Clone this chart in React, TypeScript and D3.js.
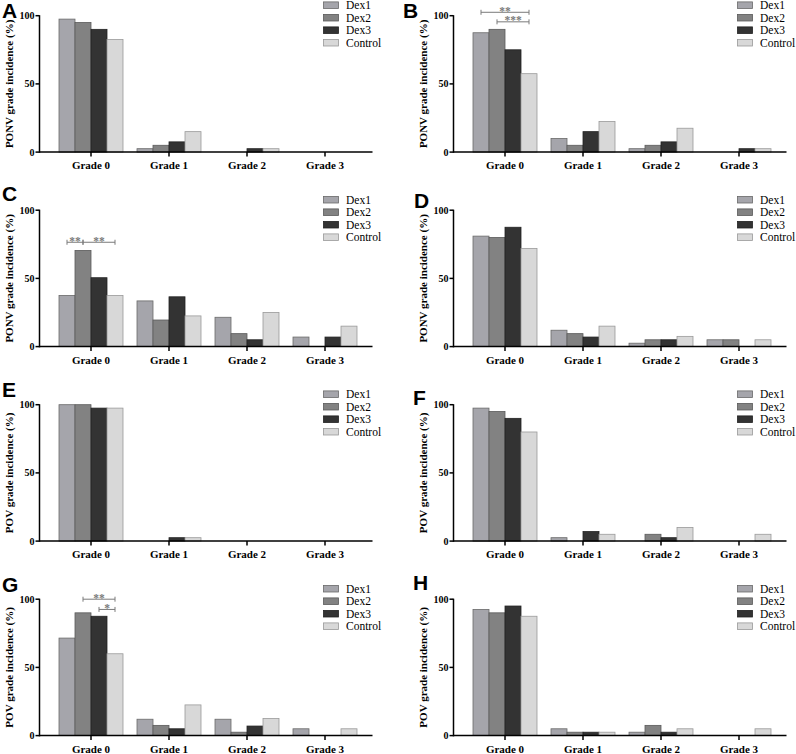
import React, { useEffect } from 'react';
import * as d3 from 'd3';

const categories = ['Grade 0', 'Grade 1', 'Grade 2', 'Grade 3'];
const series = ['Dex1', 'Dex2', 'Dex3', 'Control'];
const yTicks = [0, 50, 100];

// values per grade: [Dex1, Dex2, Dex3, Control]
const ponvA = [[97.5, 95, 90, 82.5], [2.5, 5, 7.5, 15], [0, 0, 2.5, 2.5], [0, 0, 0, 0]];
const ponvB = [[87.5, 90, 75, 57.5], [10, 5, 15, 22.5], [2.5, 5, 7.5, 17.5], [0, 0, 2.5, 2.5]];
const ponvC = [[37.5, 70.5, 50.5, 37.5], [33.5, 19.5, 36.5, 22.5], [21.5, 9.5, 5, 25], [7, 0, 7, 15]];
const ponvD = [[81, 80, 87.5, 72], [12, 9.5, 7, 15], [2.5, 5, 5, 7.5], [5, 5, 0, 5]];
const povE = [[100, 100, 97.5, 97.5], [0, 0, 2.5, 2.5], [0, 0, 0, 0], [0, 0, 0, 0]];
const povF = [[97.5, 95, 90, 80], [2.5, 0, 7, 5], [0, 5, 2.5, 10], [0, 0, 0, 5]];
const povG = [[71.5, 90, 87.5, 60], [12, 7.5, 5, 22.5], [12, 2.5, 7, 12.5], [5, 0, 0, 5]];
const povH = [[92.5, 90, 95, 87.5], [5, 2.5, 2.5, 2.5], [2.5, 7.5, 2.5, 5], [0, 0, 0, 5]];

// significance brackets on Grade 0: [from series, to series, y value, label]
const sigB: [number, number, number, string][] = [[0, 3, 102.5, '**'], [1, 3, 95.5, '***']];
const sigC: [number, number, number, string][] = [[0, 1, 76.5, '**'], [1, 3, 76.5, '**']];
const sigG: [number, number, number, string][] = [[1, 3, 100, '**'], [2, 3, 92.5, '*']];

const fills = ['#a5a5ab', '#828282', '#333333', '#d8d8d8'];
const strokes = ['#6a6a6a', '#5a5a5a', '#222222', '#9a9a9a'];

const SERIF = '"Times New Roman", "Liberation Serif", serif';
const SANS = 'Arial, "Liberation Sans", sans-serif';

const PLOT_H = 136.4;

interface PanelProps {
  ax: number;
  top: number;
  letter: string;
  lx: number;
  ly: number;
  ylabel: string;
  data: number[][];
  sig?: [number, number, number, string][];
}

const Panel: React.FC<PanelProps> = ({ ax, top, letter, lx, ly, ylabel, data, sig }) => {
  const y = d3.scaleLinear().domain([0, 100]).range([top + PLOT_H, top]);
  const x0 = d3.scaleBand().domain(categories).range([ax + 19.5, ax + 19.5 + 298]).paddingInner(14 / 78).paddingOuter(0);
  const x1 = d3.scaleBand().domain(series).range([0, x0.bandwidth()]);
  const y0 = y(0);

  return (
    <g>
      <text x={lx} y={ly} fontFamily={SANS} fontWeight="bold" fontSize={21}>{letter}</text>

      {categories.map((c, ci) =>
        series.map((s, si) => {
          const v = data[ci][si];
          if (!v) return null;
          return (
            <rect key={c + s} x={(x0(c) as number) + (x1(s) as number)} y={y(v)}
              width={x1.bandwidth()} height={y0 - y(v)}
              fill={fills[si]} stroke={strokes[si]} strokeWidth={0.8} />
          );
        })
      )}

      {/* y axis */}
      <line x1={ax} x2={ax} y1={y(100) - 0.5} y2={y0 + 0.75} stroke="#000" strokeWidth={1.5} />
      {yTicks.map(t => (
        <g key={t}>
          <line x1={ax - 4} x2={ax} y1={y(t)} y2={y(t)} stroke="#000" strokeWidth={1.5} />
          <text x={ax - 5} y={y(t) + 3.5} textAnchor="end" fontFamily={SERIF} fontWeight="bold" fontSize={10}>{t}</text>
        </g>
      ))}
      <text transform={`translate(${ax - 27},${(y(0) + y(100)) / 2}) rotate(-90)`} textAnchor="middle"
        fontFamily={SERIF} fontWeight="bold" fontSize={11}>{ylabel}</text>

      {/* x axis */}
      <line x1={ax} x2={ax + 333} y1={y0} y2={y0} stroke="#000" strokeWidth={1.5} />
      {categories.map(c => {
        const cx = (x0(c) as number) + x0.bandwidth() / 2;
        return (
          <g key={c}>
            <line x1={cx} x2={cx} y1={y0} y2={y0 + 4.5} stroke="#000" strokeWidth={1.5} />
            <text x={cx} y={y0 + 17} textAnchor="middle" fontFamily={SERIF} fontWeight="bold" fontSize={11}>{c}</text>
          </g>
        );
      })}

      {/* significance */}
      {(sig || []).map(([a, b, v, lab], i) => {
        const xa = (x0(categories[0]) as number) + (x1(series[a]) as number) + x1.bandwidth() / 2;
        const xb = (x0(categories[0]) as number) + (x1(series[b]) as number) + x1.bandwidth() / 2;
        const yy = y(v);
        return (
          <g key={i} stroke="#7a7a7a" strokeWidth={1}>
            <line x1={xa} x2={xb} y1={yy} y2={yy} />
            <line x1={xa} x2={xa} y1={yy - 2.5} y2={yy + 2.5} />
            <line x1={xb} x2={xb} y1={yy - 2.5} y2={yy + 2.5} />
            <text x={(xa + xb) / 2} y={yy + 2.5} textAnchor="middle" stroke="none" fill="#7a7a7a"
              fontFamily={SERIF} fontWeight="bold" fontSize={11.5}>{lab}</text>
          </g>
        );
      })}

      {/* legend */}
      {series.map((s, si) => {
        const cy = top - 10.5 + si * 12.5;
        return (
          <g key={s}>
            <rect x={ax + 284} y={cy - 3.3} width={15} height={6.6} fill={fills[si]} stroke={strokes[si]} strokeWidth={0.8} />
            <text x={ax + 306.5} y={cy + 4} fontFamily={SERIF} fontSize={11.5}>{s}</text>
          </g>
        );
      })}
    </g>
  );
};

const LEFT = 39.5;
const RIGHT = 453.5;
const rowTop = (r: number) => 15.7 + r * 194.5;

const App: React.FC = () => {
  useEffect(() => {
    document.body.style.margin = '0';
  }, []);

  return (
    <svg width={796} height={754} style={{ display: 'block', background: '#fff' }}>
      <Panel ax={LEFT} top={rowTop(0)} letter="A" lx={2} ly={18} ylabel="PONV grade incidence (%)" data={ponvA} />
      <Panel ax={RIGHT} top={rowTop(0)} letter="B" lx={403} ly={18} ylabel="PONV grade incidence (%)" data={ponvB} sig={sigB} />
      <Panel ax={LEFT} top={rowTop(1)} letter="C" lx={2} ly={201} ylabel="PONV grade incidence (%)" data={ponvC} sig={sigC} />
      <Panel ax={RIGHT} top={rowTop(1)} letter="D" lx={414} ly={208} ylabel="PONV grade incidence (%)" data={ponvD} />
      <Panel ax={LEFT} top={rowTop(2)} letter="E" lx={2} ly={397} ylabel="POV grade incidence (%)" data={povE} />
      <Panel ax={RIGHT} top={rowTop(2)} letter="F" lx={413} ly={405} ylabel="POV grade incidence (%)" data={povF} />
      <Panel ax={LEFT} top={rowTop(3)} letter="G" lx={2} ly={592} ylabel="POV grade incidence (%)" data={povG} sig={sigG} />
      <Panel ax={RIGHT} top={rowTop(3)} letter="H" lx={413} ly={590} ylabel="POV grade incidence (%)" data={povH} />
    </svg>
  );
};

export default App;
